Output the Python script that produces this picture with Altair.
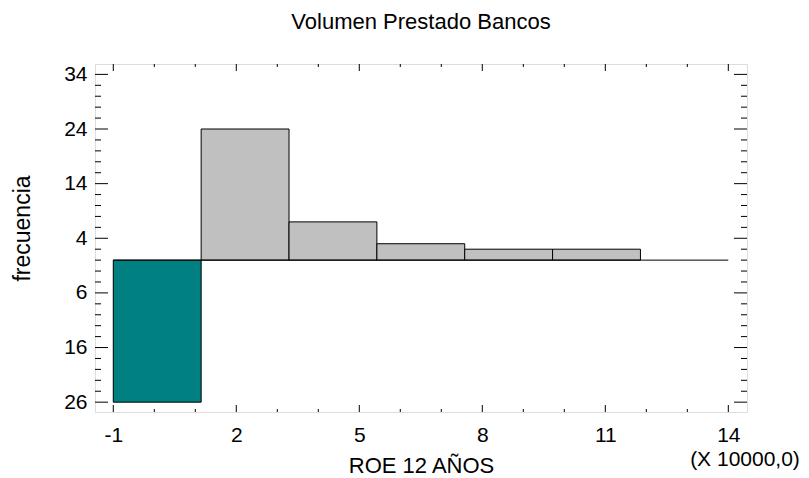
import altair as alt
import pandas as pd

# Data
bin_start = [-1.0, 1.143, 3.286, 5.429, 7.571, 9.714, 11.857]
bin_end = [1.143, 3.286, 5.429, 7.571, 9.714, 11.857, 14.0]
upper_counts = [0, 24, 7, 3, 2, 2, 0]
lower_counts = [26, 0, 0, 0, 0, 0, 0]

x_major = [-1, 2, 5, 8, 11, 14]
x_minor = list(range(-1, 15))
y_major = [-26, -16, -6, 4, 14, 24, 34]
y_minor = list(range(-26, 35, 2))

W, H = 652, 348
FONT = "Liberation Sans"

df = pd.DataFrame({"x": bin_start, "x2": bin_end, "up": upper_counts, "low": lower_counts})
df["neg"] = [-v for v in lower_counts]

xs = alt.Scale(domain=[-1.446, 14.456], nice=False, zero=False)
ys = alt.Scale(domain=[-27.8, 35.9], nice=False, zero=False)

lbl_expr = "datum.value < 0 ? '-' + abs(datum.value) : '' + datum.value"

base = alt.Chart(df)

lower = base.transform_filter("datum.low > 0").mark_bar(
    color="#008080", stroke="black", strokeWidth=1
).encode(
    x=alt.X("x:Q", scale=xs, axis=alt.Axis(
        values=x_major, labelExpr=lbl_expr, title="ROE 12 AÑOS", ticks=False, domain=False,
        grid=False, labelFontSize=21, labelFont=FONT, labelColor="black", labelPadding=12,
        titleFont=FONT, titleFontSize=22, titleFontWeight="normal", titleColor="black",
        titleY=60, titleBaseline="alphabetic")),
    x2="x2:Q",
    y=alt.Y("neg:Q", scale=ys, axis=alt.Axis(
        values=y_major, labelExpr="'' + abs(datum.value)", title="frecuencia", ticks=False,
        domain=False, grid=False, labelFontSize=21, labelFont=FONT, labelColor="black",
        labelPadding=8, titleFont=FONT, titleFontSize=23, titleFontWeight="normal",
        titleColor="black", titleX=-73, titleY=164, titleBaseline="middle")),
    y2=alt.datum(0),
)

upper = base.transform_filter("datum.up > 0").mark_bar(
    color="#c0c0c0", stroke="black", strokeWidth=1
).encode(
    x=alt.X("x:Q", scale=xs), x2="x2:Q",
    y=alt.Y("up:Q", scale=ys), y2=alt.datum(0),
)

baseline = alt.Chart(pd.DataFrame({"a": [bin_start[0]], "b": [bin_end[-1]]})).mark_rule(
    color="black", strokeWidth=1
).encode(x=alt.X("a:Q", scale=xs), x2="b:Q", y=alt.datum(0))

ymaj = pd.DataFrame({"v": y_major})
ymin = pd.DataFrame({"v": [v for v in y_minor if v not in y_major]})
xmaj = pd.DataFrame({"v": x_major})
xmin = pd.DataFrame({"v": [v for v in x_minor if v not in x_major]})

def yticks(d, length):
    l = alt.Chart(d).mark_rule(color="black").encode(
        y=alt.Y("v:Q", scale=ys), x=alt.value(0), x2=alt.value(length))
    r = alt.Chart(d).mark_rule(color="black").encode(
        y=alt.Y("v:Q", scale=ys), x=alt.value(W - length), x2=alt.value(W))
    return [l, r]

def xticks(d, length):
    b = alt.Chart(d).mark_rule(color="black").encode(
        x=alt.X("v:Q", scale=xs), y=alt.value(H - length), y2=alt.value(H))
    t = alt.Chart(d).mark_rule(color="black").encode(
        x=alt.X("v:Q", scale=xs), y=alt.value(0), y2=alt.value(length))
    return [b, t]

note = alt.Chart(pd.DataFrame({"t": ["(X 10000,0)"]})).mark_text(
    font=FONT, fontSize=21, color="black", align="center", baseline="alphabetic"
).encode(text="t:N", x=alt.value(650), y=alt.value(402))

layers = [lower, upper, baseline] + yticks(ymaj, 13) + yticks(ymin, 6) + xticks(xmaj, 7) + xticks(xmin, 3) + [note]

chart = alt.layer(*layers).properties(
    width=W, height=H,
    title=alt.TitleParams("Volumen Prestado Bancos", font=FONT, fontSize=22, fontWeight="normal",
                          color="black", anchor="middle", offset=12, baseline="alphabetic"),
    autosize=alt.AutoSizeParams(type="none"),
    padding={"left": 95, "top": 64, "right": 62, "bottom": 66},
).configure_view(stroke="black", strokeWidth=1).configure(background="white")

chart.save("out.html", embed_options={"renderer": "svg", "actions": False})
